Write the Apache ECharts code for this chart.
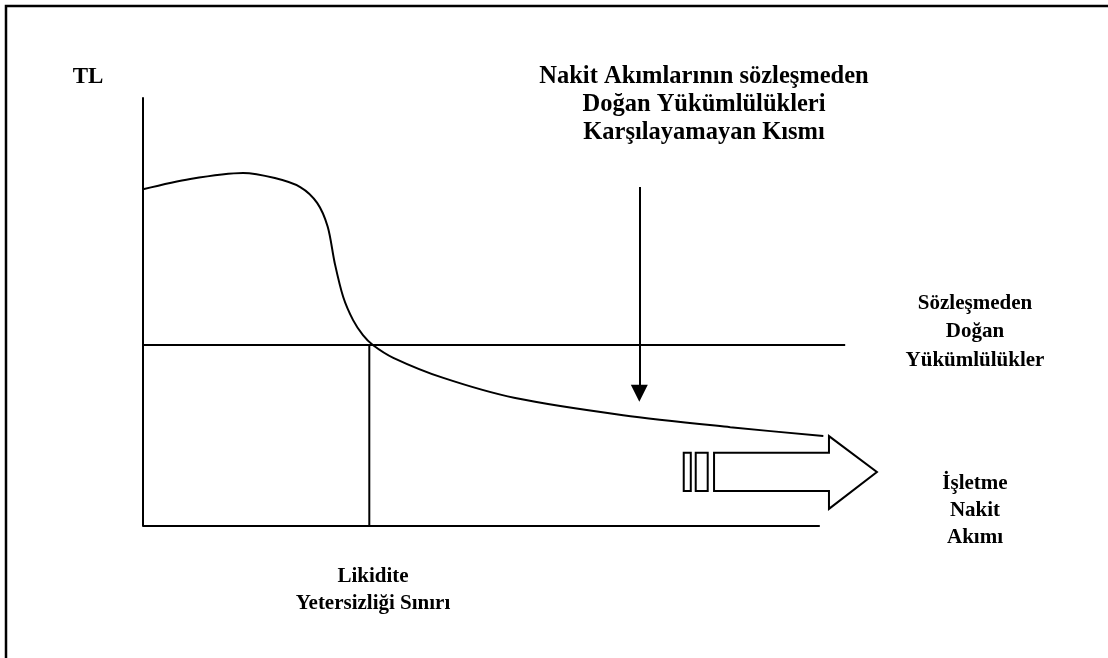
<!DOCTYPE html>
<html>
	<head>
		<title>Likidite Yetersizliği</title>
		<meta charset="UTF-8">
		<script src="https://cdn.jsdelivr.net/npm/echarts@6/dist/echarts.min.js" type="text/javascript"></script>
		<style>
			html, body { margin: 0; padding: 0; background: #fff; }
			#chart { width: 1108px; height: 658px; }
		</style>
	</head>
	<body>
		<div id="chart"></div>
		<script type="text/javascript">
			// işletme nakit akımı eğrisi (x: zaman 0-100, y: TL 0-100)
			var curveX = [0, 6.7, 14.2, 18.7, 22.3, 24.7, 26.2, 27.2, 28.4, 29.8, 31.2, 32.6, 35.5, 42.6, 52.8, 68.1, 83.3, 96.5];
			var curveY = [78.7, 81.1, 82.5, 81.3, 79.2, 75.5, 69.9, 61.4, 53.5, 48.1, 44.6, 42.3, 39.3, 34.6, 29.9, 25.9, 23.1, 21.0];

			// sözleşmeden doğan yükümlülükler seviyesi
			var obligationX = [0, 99.6];
			var obligationY = [42.3, 42.3];

			// yatay eksen
			var baseX = [0, 96];
			var baseY = [0, 0];

			// likidite yetersizliği sınırı
			var limitX = [32.1, 32.1];
			var limitY = [0, 42.3];

			// karşılanamayan kısmı gösteren ok
			var downArrowX = [70.4, 70.4];
			var downArrowY = [79.2, 31.0];

			// büyük içi boş ok ve önündeki iki çubuk
			var bigArrowX = [81.0, 97.3, 97.3, 104.1, 97.3, 97.3, 81.0];
			var bigArrowY = [17.1, 17.1, 21.0, 12.6, 4.0, 8.2, 8.2];
			var barsX = [[76.7, 77.7], [78.4, 80.1]];
			var barsY = [8.2, 17.1];

			var serif = "'Liberation Serif', 'Times New Roman', serif";

			function zip(xs, ys) {
				return xs.map(function (x, i) { return [x, ys[i]]; });
			}

			function plainLine(xs, ys, smooth) {
				return {
					type: 'line',
					data: zip(xs, ys),
					symbol: 'none',
					smooth: smooth || false,
					lineStyle: { color: '#000', width: 2 },
					silent: true
				};
			}

			function textBlock(x, y, text, size, lh) {
				return {
					type: 'text',
					x: x,
					y: y,
					style: {
						text: text,
						fill: '#000',
						font: 'bold ' + size + 'px ' + serif,
						align: 'center',
						verticalAlign: 'top',
						lineHeight: lh
					}
				};
			}

			var option = {
				animation: false,
				backgroundColor: '#fff',
				grid: { left: 143, top: 98, width: 705, height: 428 },
				xAxis: {
					type: 'value', min: 0, max: 100,
					axisLine: { show: false }, axisTick: { show: false },
					axisLabel: { show: false }, splitLine: { show: false }
				},
				yAxis: {
					type: 'value', min: 0, max: 100,
					axisLine: { show: true, lineStyle: { color: '#000', width: 2 } },
					axisTick: { show: false },
					axisLabel: { show: false }, splitLine: { show: false }
				},
				graphic: [
					{
						type: 'rect',
						shape: { x: 6, y: 6, width: 1300, height: 900 },
						style: { fill: 'none', stroke: '#000', lineWidth: 2.5 },
						silent: true
					},
					{
						type: 'text', x: 88, y: 77,
						style: { text: 'TL', fill: '#000', font: 'bold 23px ' + serif, align: 'center', verticalAlign: 'middle' }
					},
					textBlock(704, 63, 'Nakit Akımlarının sözleşmeden\nDoğan Yükümlülükleri\nKarşılayamayan Kısmı', 24.5, 28),
					textBlock(975, 289, 'Sözleşmeden\nDoğan\nYükümlülükler', 21, 28.5),
					textBlock(975, 470, 'İşletme\nNakit\nAkımı', 21, 27),
					textBlock(373, 563, 'Likidite\nYetersizliği Sınırı', 21, 27)
				],
				series: [
					plainLine(baseX, baseY),
					plainLine(obligationX, obligationY),
					plainLine(limitX, limitY),
					plainLine(curveX, curveY, 0.3),
					{
						type: 'lines',
						coordinateSystem: 'cartesian2d',
						symbol: ['none', 'triangle'],
						symbolSize: [14, 17],
						lineStyle: { color: '#000', width: 2, opacity: 1 },
						data: [{ coords: zip(downArrowX, downArrowY) }],
						silent: true
					},
					{
						type: 'custom',
						data: [[0, 0]],
						silent: true,
						renderItem: function (params, api) {
							var pts = zip(bigArrowX, bigArrowY).map(function (p) { return api.coord(p); });
							var children = [{
								type: 'polygon',
								shape: { points: pts },
								style: { fill: '#fff', stroke: '#000', lineWidth: 2 }
							}];
							barsX.forEach(function (b) {
								var p0 = api.coord([b[0], barsY[1]]);
								var p1 = api.coord([b[1], barsY[0]]);
								children.push({
									type: 'rect',
									shape: { x: p0[0], y: p0[1], width: p1[0] - p0[0], height: p1[1] - p0[1] },
									style: { fill: '#fff', stroke: '#000', lineWidth: 2 }
								});
							});
							return { type: 'group', children: children };
						}
					}
				]
			};

			var chart = echarts.init(document.getElementById('chart'));
			chart.setOption(option);
		</script>
	</body>
</html>
